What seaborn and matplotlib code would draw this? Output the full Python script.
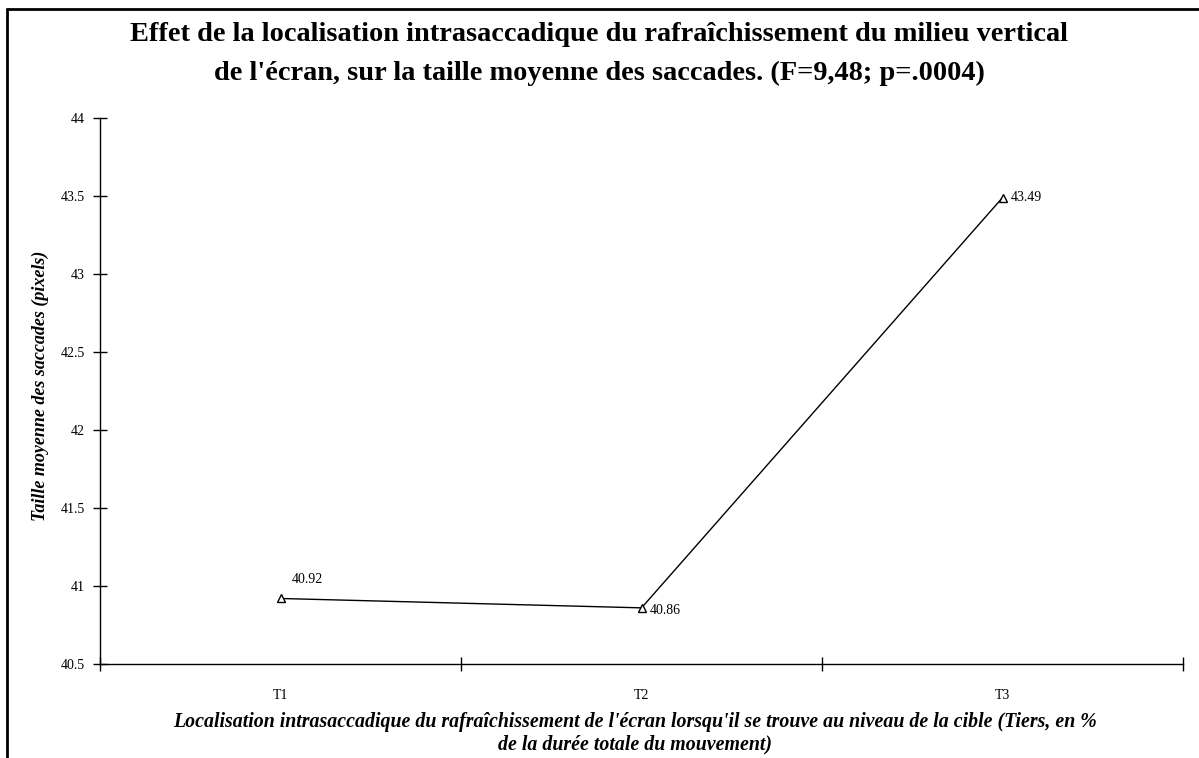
import numpy as np
import pandas as pd
import matplotlib
matplotlib.use("Agg")
import matplotlib.pyplot as plt
import seaborn as sns
from matplotlib.ticker import FixedLocator
from matplotlib.lines import Line2D

categories = ["T1", "T2", "T3"]
sizes = [40.92, 40.86, 43.49]
y_ticks = [40.5, 41, 41.5, 42, 42.5, 43, 43.5, 44]

df = pd.DataFrame({"Tiers": categories, "Taille": sizes})

sns.set_theme(style="white")
plt.rcParams["font.family"] = ["Liberation Serif", "DejaVu Serif"]
plt.rcParams["text.color"] = "black"
plt.rcParams["axes.labelcolor"] = "black"
plt.rcParams["xtick.color"] = "black"
plt.rcParams["ytick.color"] = "black"

fig = plt.figure(figsize=(11.99, 7.58), dpi=100)
ax = fig.add_axes([0.0834, 0.124, 0.9033, 0.7203])

sns.lineplot(data=df, x="Tiers", y="Taille", ax=ax, color="black", linewidth=1,
             marker="^", markersize=6, markerfacecolor="white",
             markeredgecolor="black", markeredgewidth=1)

ax.set_xlim(-0.5, 2.5)
ax.set_ylim(40.5, 44)
ax.set_yticks(y_ticks)
ax.set_yticklabels([f"{v:g}" for v in y_ticks], fontsize=10)
ax.set_xticks(range(len(categories)))
ax.set_xticklabels(categories, fontsize=10)
ax.xaxis.set_minor_locator(FixedLocator([-0.5, 0.5, 1.5, 2.5]))
ax.tick_params(axis="x", which="both", bottom=True)
ax.tick_params(axis="x", which="major", length=0, pad=18)
ax.tick_params(axis="x", which="minor", direction="inout", length=10, width=1, color="black")
ax.tick_params(axis="y", which="major", left=True, direction="inout", length=10, width=1, color="black", pad=6)

for s in ["top", "right"]:
    ax.spines[s].set_visible(False)
for s in ["left", "bottom"]:
    ax.spines[s].set_color("black")
    ax.spines[s].set_linewidth(1)

# labels next to the points
offsets = [(8, 14), (6, -2), (6, 0)]
for i, (v, off) in enumerate(zip(sizes, offsets)):
    ax.annotate(f"{v:.2f}", (i, v), xytext=off, textcoords="offset points",
                fontsize=10, ha="left", va="center", color="black")

ax.set_xlabel("Localisation intrasaccadique du rafraîchissement de l'écran lorsqu'il se trouve au niveau de la cible (Tiers, en %\nde la durée totale du mouvement)",
              fontsize=14.3, fontweight="bold", fontstyle="italic", linespacing=1.15)
ax.xaxis.set_label_coords(0.494, -0.088)
ax.xaxis.label.set_va("top")
ax.set_ylabel("Taille moyenne des saccades (pixels)", fontsize=13,
              fontweight="bold", fontstyle="italic")
ax.yaxis.set_label_coords(-0.047, 0.51)

fig.text(0.5, 0.971, "Effet de la localisation intrasaccadique du rafraîchissement du milieu vertical\nde l'écran, sur la taille moyenne des saccades. (F=9,48; p=.0004)",
         ha="center", va="top", fontsize=20.4, fontweight="bold", linespacing=1.74)

# outer frame (left and top edges)
fig.add_artist(Line2D([0.0058, 0.0058], [0, 0.988], transform=fig.transFigure, color="black", linewidth=2))
fig.add_artist(Line2D([0.0058, 1], [0.988, 0.988], transform=fig.transFigure, color="black", linewidth=2))

fig.savefig("out.png", dpi=100, facecolor="white")
